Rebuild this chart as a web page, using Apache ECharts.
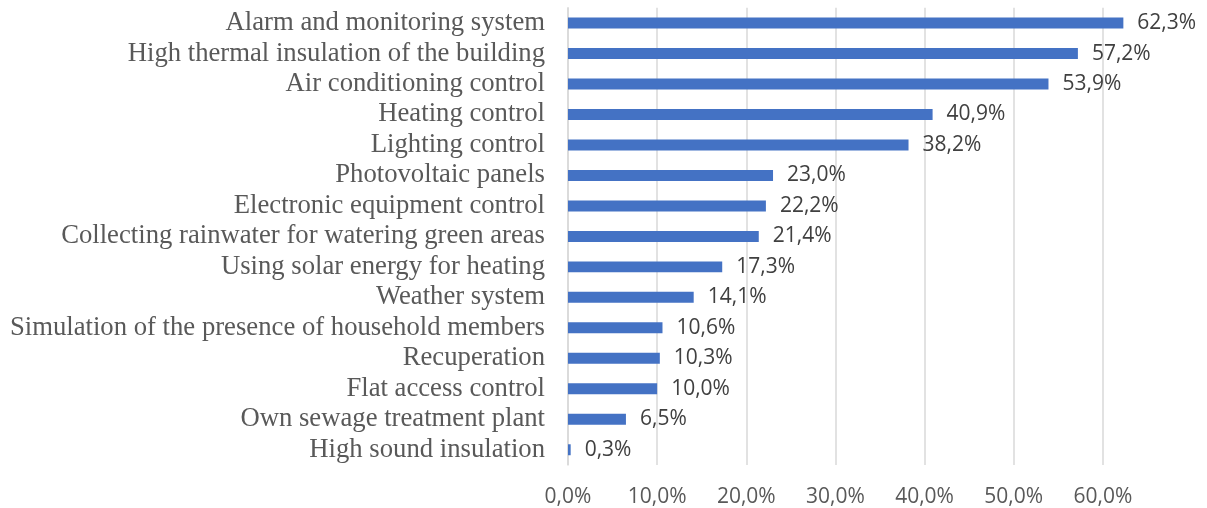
<!DOCTYPE html>
<html>
<head>
<meta charset="utf-8">
<script src="https://cdn.jsdelivr.net/npm/echarts@6/dist/echarts.min.js"></script>
<style>
  html, body { margin: 0; padding: 0; background: #ffffff; }
  #chart { width: 1207px; height: 508px; }
</style>
</head>
<body>
<div id="chart"></div>
<script>
// Smart-home features and the share of respondents choosing each (%)
const categories = [
  'Alarm and monitoring system',
  'High thermal insulation of the building',
  'Air conditioning control',
  'Heating control',
  'Lighting control',
  'Photovoltaic panels',
  'Electronic equipment control',
  'Collecting rainwater for watering green areas',
  'Using solar energy for heating',
  'Weather system',
  'Simulation of the presence of household members',
  'Recuperation',
  'Flat access control',
  'Own sewage treatment plant',
  'High sound insulation'
];
const shares = [62.3, 57.2, 53.9, 40.9, 38.2, 23.0, 22.2, 21.4, 17.3, 14.1, 10.6, 10.3, 10.0, 6.5, 0.3];
const axisTicks = [0, 10, 20, 30, 40, 50, 60];

const pct = v => v.toFixed(1).replace('.', ',') + '%';
const lastTick = axisTicks[axisTicks.length - 1];

const chart = echarts.init(document.getElementById('chart'), null, { renderer: 'canvas' });
chart.setOption({
  animation: false,
  backgroundColor: '#ffffff',
  grid: { left: 568, right: 15, top: 7.8, bottom: 41.5, containLabel: false },
  xAxis: {
    type: 'value',
    min: 0,
    max: 70,
    interval: 10,
    axisLine: { show: false },
    axisTick: { show: false },
    splitLine: { show: true, showMaxLine: false, lineStyle: { color: '#d9d9d9', width: 1.5 } },
    axisLabel: {
      margin: 22,
      color: '#595959',
      fontFamily: 'Open Sans',
      fontSize: 21,
      formatter: v => (v <= lastTick ? pct(v) : '')
    }
  },
  yAxis: {
    type: 'category',
    data: categories,
    inverse: true,
    axisLine: { show: true, lineStyle: { color: '#d9d9d9', width: 1.5 } },
    axisTick: { show: false },
    axisLabel: {
      interval: 0,
      margin: 23,
      color: '#595959',
      fontFamily: 'Liberation Serif',
      fontSize: 26.7
    }
  },
  series: [{
    type: 'bar',
    data: shares,
    barCategoryGap: '64%',
    itemStyle: { color: '#4472c4' },
    label: {
      show: true,
      position: 'right',
      distance: 14,
      color: '#404040',
      fontFamily: 'Open Sans',
      fontSize: 21,
      formatter: p => pct(p.value)
    }
  }]
});
</script>
</body>
</html>
